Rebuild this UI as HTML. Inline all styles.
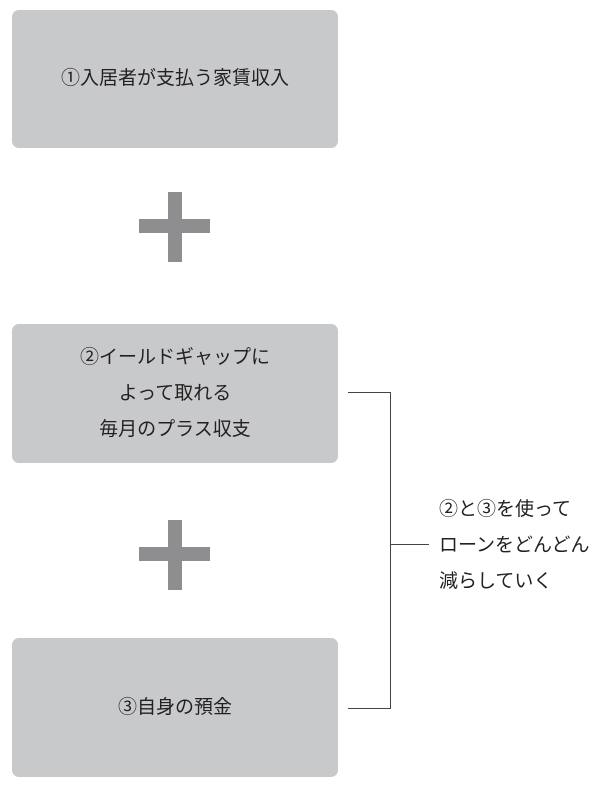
<!DOCTYPE html>
<html><head><meta charset="utf-8"><style>
body{margin:0;width:600px;height:791px;background:#fff;position:relative;font-family:"Liberation Sans","Noto Sans CJK JP",sans-serif;color:#231f20;overflow:hidden}
.b{position:absolute;left:12px;width:326px;background:#c8c9cb;border-radius:7px;display:flex;align-items:center;justify-content:center;text-align:center;font-size:19px;line-height:36px}
.v{position:absolute;background:#8e8e90}
.l{position:absolute;background:#444}
.t{position:absolute;left:439px;top:492px;font-size:19px;line-height:36px}
</style></head><body>
<div class="b" style="top:10px;height:138px">①入居者が支払う家賃収入</div>
<div class="b" style="top:324px;height:139px">②イールドギャップに<br>よって取れる<br>毎月のプラス収支</div>
<div class="b" style="top:638px;height:139px">③自身の預金</div>
<div class="v" style="left:168px;top:192px;width:14px;height:70px"></div>
<div class="v" style="left:139px;top:219px;width:71px;height:14px"></div>
<div class="v" style="left:168px;top:520px;width:14px;height:70px"></div>
<div class="v" style="left:139px;top:547px;width:71px;height:14px"></div>
<div class="l" style="left:348px;top:392px;width:43px;height:1px"></div>
<div class="l" style="left:390px;top:392px;width:1px;height:317px"></div>
<div class="l" style="left:348px;top:708px;width:43px;height:1px"></div>
<div class="l" style="left:390px;top:544px;width:39px;height:1px"></div>
<div class="t">②と③を使って<br>ローンをどんどん<br>減らしていく</div>
</body></html>
